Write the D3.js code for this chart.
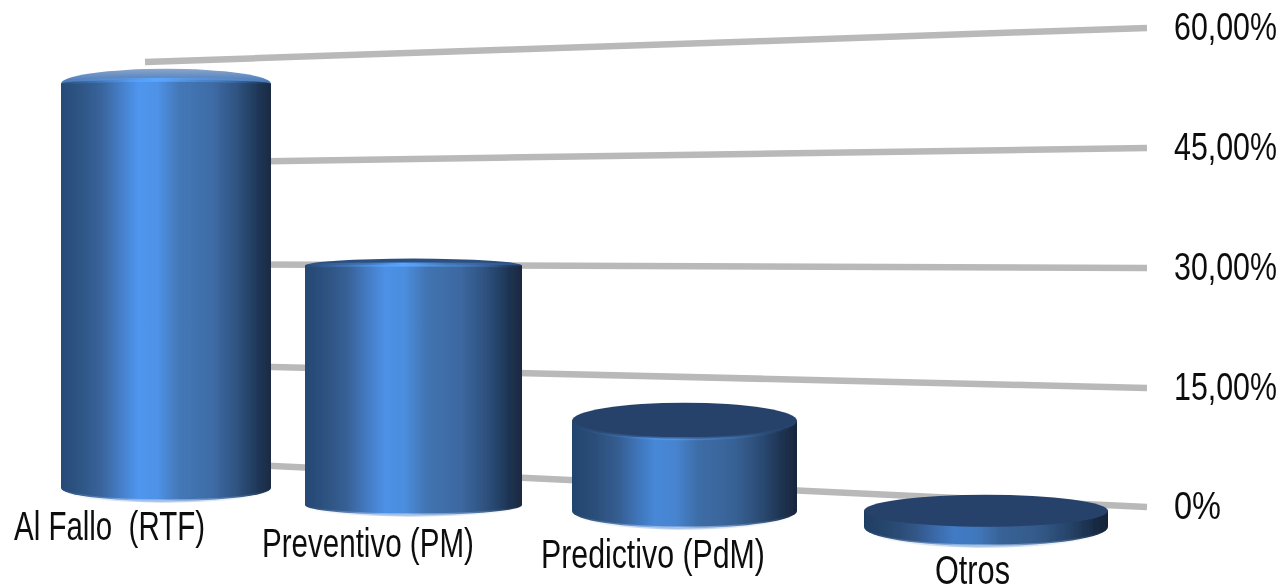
<!DOCTYPE html>
<html><head><meta charset="utf-8">
<script src="https://cdnjs.cloudflare.com/ajax/libs/d3/7.8.5/d3.min.js"></script>
<style>html,body{margin:0;background:#fff}svg{display:block}text{font-family:"Liberation Sans",Arial,sans-serif;fill:#111}</style>
</head><body><svg id="c" width="1285" height="588"></svg>
<script>
const categories = ["Al Fallo  (RTF)", "Preventivo (PM)", "Predictivo (PdM)", "Otros"];
const values = [55, 31.5, 11.5, 2];
const tickValues = [0, 15, 30, 45, 60];
const tickLabels = ["0%", "15,00%", "30,00%", "45,00%", "60,00%"];

const svg = d3.select("#c");
const defs = svg.append("defs");
defs.append("filter").attr("id","soft").append("feGaussianBlur").attr("stdDeviation",0.6);

// perspective: the back wall's gridlines run between two differently scaled edges
const yLeft = d3.scaleLinear(tickValues,[460,364,264,163,62]);
const yRight = d3.scaleLinear(tickValues,[507,388,268,148,28]);
const xLeft = 145, xRight = 1147;
const idx = [0,1,2,3];
const cx = d3.scaleLinear(idx,[166,413.5,684.5,986]);
const bw = d3.scaleLinear(idx,[210,217,225,244]);
const baseY = d3.scaleLinear(idx,[488,505,511,527]);
const ppu = d3.scaleLinear([0,3],[7.35,8.1]);
const ryTop = d3.scaleLinear(idx,[15,7,18,16]);
const ryFront = d3.scaleLinear(idx,[-4,-1,18,16]);
const ryBot = d3.scaleLinear(idx,[13,10,17,19]);
const shade = [0,0.1,0.28,0.55];
const topFill = ["tb0","#2c5080","#27436a","#27426a"];

const grid = svg.append("g").attr("filter","url(#soft)");
grid.selectAll("line").data(tickValues).join("line")
  .attr("x1",xLeft).attr("x2",xRight)
  .attr("y1",d=>yLeft(d)).attr("y2",d=>yRight(d))
  .attr("stroke","#b9b9b9").attr("stroke-width",6.5);

const tb = defs.append("linearGradient").attr("id","tb0").attr("x1",0).attr("x2",0).attr("y1",0).attr("y2",1);
[[0,"#8ba6cc"],[0.3,"#5d88c0"],[0.5,"#3f72b4"]].forEach(([o,c])=>tb.append("stop").attr("offset",o).attr("stop-color",c));

const bodyStops = [[0,"#264b78"],[0.1,"#2f5686"],[0.2,"#3a669e"],[0.29,"#4680cc"],[0.37,"#4f96ee"],[0.46,"#4f92e6"],[0.56,"#4478b8"],[0.72,"#3e6ca6"],[0.84,"#2f5380"],[0.94,"#1f3656"],[1,"#1a2a42"]];
values.forEach((v,i)=>{
  const g = defs.append("linearGradient").attr("id","body"+i);
  bodyStops.forEach(([o,c])=>g.append("stop").attr("offset",o).attr("stop-color",d3.color(c).darker(shade[i]).formatHex()));
  const h = defs.append("linearGradient").attr("id","glow"+i);
  [[0,0],[0.3,0.45],[0.45,1],[0.65,0.45],[1,0]].forEach(([o,a])=>h.append("stop").attr("offset",o).attr("stop-color","#5aa6ff").attr("stop-opacity",a));
  const r = defs.append("linearGradient").attr("id","rim"+i);
  [[0,0],[0.2,0.3],[0.47,1],[0.75,0.3],[1,0]].forEach(([o,a])=>r.append("stop").attr("offset",o).attr("stop-color","#a9c3e6").attr("stop-opacity",a));
});

const bars = svg.append("g").attr("filter","url(#soft)").selectAll("g").data(values).join("g");
const topY = (d,i)=>baseY(i)-d*ppu(i);
bars.append("path")
  .attr("d",(d,i)=>{const w=bw(i)/2,x=cx(i),t=topY(d,i),b=baseY(i),r=ryBot(i);
    return `M${x-w},${t}L${x-w},${b}A${w},${r} 0 0 0 ${x+w},${b}L${x+w},${t}Z`;})
  .attr("fill",(d,i)=>`url(#body${i})`);
bars.append("path")
  .attr("d",(d,i)=>{const w=bw(i)/2,x=cx(i),b=baseY(i),r=ryBot(i);
    return `M${x-w},${b}A${w},${r} 0 0 0 ${x+w},${b}`;})
  .attr("fill","none").attr("stroke",(d,i)=>`url(#rim${i})`).attr("stroke-width",3);
bars.append("ellipse")
  .attr("cx",(d,i)=>cx(i)).attr("cy",(d,i)=>topY(d,i))
  .attr("rx",(d,i)=>bw(i)/2).attr("ry",(d,i)=>ryTop(i))
  .attr("fill",(d,i)=>topFill[i].startsWith("#")?topFill[i]:`url(#${topFill[i]})`);
// the two tall bars are seen from below: their body covers the ellipse's lower half
bars.filter((d,i)=>i<2).append("path")
  .attr("d",(d,i)=>{const w=bw(i)/2,x=cx(i),t=topY(d,i),r=ryTop(i);
    return `M${x-w},${t}A${w},${-ryFront(i)} 0 0 1 ${x+w},${t}L${x+w},${t+r+2}L${x-w},${t+r+2}Z`;})
  .attr("fill",(d,i)=>`url(#body${i})`);
bars.filter((d,i)=>i<2).append("path")
  .attr("d",(d,i)=>{const w=bw(i)/2,x=cx(i),t=topY(d,i);
    return `M${x-w},${t}A${w},${-ryFront(i)} 0 0 1 ${x+w},${t}`;})
  .attr("fill","none").attr("stroke",(d,i)=>`url(#glow${i})`).attr("stroke-width",4);
bars.filter((d,i)=>i===2).append("path")
  .attr("d",(d,i)=>{const w=bw(2)/2,x=cx(2),t=topY(d,2),r=ryTop(2);
    return `M${x-w},${t}A${w},${r} 0 0 0 ${x+w},${t}`;})
  .attr("fill","none").attr("stroke","url(#glow2)").attr("stroke-width",3).attr("opacity",0.5);

// condensed text: squeeze each label horizontally to the width it has in the picture
function squeeze(sel, xOf, yOf, widthOf){
  sel.attr("transform",function(d,i){
    const s = widthOf(d,i)/this.getComputedTextLength();
    return `translate(${xOf(d,i)},${yOf(d,i)}) scale(${s},1)`;
  });
}
const tickW = d3.scaleOrdinal(tickLabels,[47,103,103,103,103]);
const ticks = svg.append("g").attr("filter","url(#soft)").selectAll("text").data(tickValues).join("text")
  .attr("font-size",38).attr("fill","#222")
  .text((d,i)=>tickLabels[i]);
squeeze(ticks,()=>1174,d=>yRight(d)+12,(d,i)=>tickW(tickLabels[i]));

const labelX = d3.scaleLinear(idx,[14,262,541,935]);
const labelW = d3.scaleLinear(idx,[191,212,224,75]);
const labelY = d3.scaleLinear(idx,[540,557,568,584]);
const labels = svg.append("g").attr("filter","url(#soft)").selectAll("text").data(categories).join("text")
  .attr("font-size",40).attr("xml:space","preserve")
  .text(d=>d);
squeeze(labels,(d,i)=>labelX(i),(d,i)=>labelY(i),(d,i)=>labelW(i));
</script></body></html>
